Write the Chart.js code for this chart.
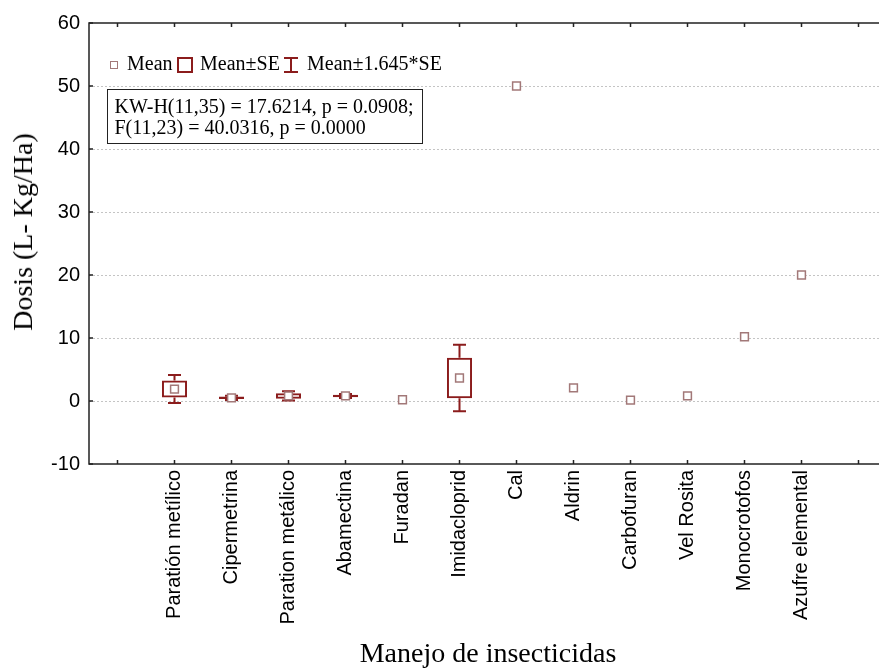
<!DOCTYPE html>
<html lang="es">
<head>
  <meta charset="UTF-8">
  <meta name="viewport" content="width=device-width, initial-scale=1.0">
  <title>Dosis por manejo de insecticidas</title>
  <style>
    html, body {
      margin: 0;
      padding: 0;
      background: #fff;
      overflow: hidden;
    }

    #wrap {
      position: relative;
      width: 879px;
      height: 668px;
      overflow: hidden;
    }

    #doseChart {
      position: absolute;
      left: 0;
      top: 0;
    }

    .serif {
      position: absolute;
      font-family: 'Liberation Serif', 'Times New Roman', serif;
      color: #000;
      white-space: nowrap;
    }

    #yTitle {
      left: 23px;
      top: 232px;
      font-size: 28px;
      transform: translate(-50%, -50%) rotate(-90deg);
    }

    .leg-text {
      font-size: 20px;
      line-height: 20px;
      top: 53px;
    }

    .icon {
      position: absolute;
      box-sizing: border-box;
    }

    #statsBox {
      left: 107px;
      top: 89px;
      width: 316px;
      height: 55px;
      box-sizing: border-box;
      border: 1.5px solid #222;
      padding: 5.5px 0 0 6.5px;
      font-size: 20px;
      line-height: 21px;
      background: #fff;
    }
  </style>
</head>
<body>

<div id="wrap">
  <canvas id="doseChart" width="900" height="668"></canvas>

  <div id="yTitle" class="serif">Dosis (L- Kg/Ha)</div>

  <!-- legend -->
  <div class="icon" style="left:110px; top:61px; width:8px; height:8px; border:1.2px solid #a27878;"></div>
  <div class="serif leg-text" style="left:127px;">Mean</div>
  <div class="icon" style="left:177px; top:57px; width:16px; height:16px; border:2px solid #8b1c1c;"></div>
  <div class="serif leg-text" style="left:200px;">Mean±SE</div>
  <div class="icon" style="left:284px; top:57px; width:14px; height:2px; background:#8b1c1c;"></div>
  <div class="icon" style="left:290px; top:57px; width:2px; height:16px; background:#8b1c1c;"></div>
  <div class="icon" style="left:284px; top:71px; width:14px; height:2px; background:#8b1c1c;"></div>
  <div class="serif leg-text" style="left:307px;">Mean±1.645*SE</div>

  <div id="statsBox" class="serif">KW-H(11,35) = 17.6214, p = 0.0908;<br>F(11,23) = 40.0316, p = 0.0000</div>
</div>

<script src="https://cdn.jsdelivr.net/npm/chart.js"></script>
<script>
  // empty slots at both ends, as in the original axis
  const categories = ['', 'Paratión metílico', 'Cipermetrina', 'Paration metálico', 'Abamectina',
    'Furadan', 'Imidacloprid', 'Cal', 'Aldrin', 'Carbofuran', 'Vel Rosita', 'Monocrotofos',
    'Azufre elemental', ''];
  const means = [null, 1.9, 0.5, 0.8, 0.8, 0.2, 3.65, 50, 2.1, 0.15, 0.8, 10.2, 20, null];
  const stdErr = [null, 1.35, 0.2, 0.45, 0.2, null, 3.2, null, null, null, null, null, null, null];
  const seFactor = 1.645;
  const yTicks = [-10, 0, 10, 20, 30, 40, 50, 60];

  const boxColor = '#8b1c1c';
  const meanColor = '#a27878';

  const seBoxes = means.map((m, i) => (stdErr[i] == null ? null : [m - stdErr[i], m + stdErr[i]]));

  // whiskers for mean +/- 1.645*SE
  const whiskerPlugin = {
    id: 'whiskers',
    beforeDatasetsDraw(chart) {
      const { ctx, scales: { x, y } } = chart;
      const capHalf = 6.5;
      ctx.save();
      ctx.strokeStyle = boxColor;
      ctx.lineWidth = 2;
      means.forEach((m, i) => {
        if (stdErr[i] == null) return;
        const px = x.getPixelForValue(i);
        const ends = [
          [m + stdErr[i], m + seFactor * stdErr[i]],
          [m - stdErr[i], m - seFactor * stdErr[i]]
        ];
        ends.forEach(([from, to]) => {
          const y0 = y.getPixelForValue(from);
          const y1 = y.getPixelForValue(to);
          ctx.beginPath();
          ctx.moveTo(px, y0);
          ctx.lineTo(px, y1);
          ctx.moveTo(px - capHalf, y1);
          ctx.lineTo(px + capHalf, y1);
          ctx.stroke();
        });
      });
      ctx.restore();
    }
  };

  // frame with inward tick marks
  const framePlugin = {
    id: 'frame',
    afterDraw(chart) {
      const { ctx, chartArea: a, scales: { x, y } } = chart;
      const tl = 4;
      ctx.save();
      ctx.strokeStyle = '#222';
      ctx.lineWidth = 1.5;
      ctx.strokeRect(a.left, a.top, a.right - a.left, a.bottom - a.top);
      ctx.beginPath();
      x.ticks.forEach((t, i) => {
        const px = x.getPixelForTick(i);
        ctx.moveTo(px, a.bottom);
        ctx.lineTo(px, a.bottom - tl);
        ctx.moveTo(px, a.top);
        ctx.lineTo(px, a.top + tl);
      });
      yTicks.forEach(v => {
        const py = y.getPixelForValue(v);
        ctx.moveTo(a.left, py);
        ctx.lineTo(a.left + tl, py);
        ctx.moveTo(a.right, py);
        ctx.lineTo(a.right - tl, py);
      });
      ctx.stroke();
      ctx.restore();
    }
  };

  const ctx = document.getElementById('doseChart').getContext('2d');

  const doseChart = new Chart(ctx, {
    type: 'bar',
    data: {
      labels: categories,
      datasets: [
        {
          type: 'line',
          label: 'Mean',
          data: means,
          showLine: false,
          pointStyle: 'rect',
          pointRadius: 5.5,
          pointHoverRadius: 5.5,
          pointBorderWidth: 1.5,
          pointBorderColor: meanColor,
          pointBackgroundColor: '#fff',
          order: 0
        },
        {
          label: 'Mean±SE',
          data: seBoxes,
          backgroundColor: 'rgba(0,0,0,0)',
          borderColor: boxColor,
          borderWidth: 2,
          borderSkipped: false,
          barPercentage: 0.44,
          categoryPercentage: 1,
          order: 1
        }
      ]
    },
    options: {
      responsive: false,
      animation: false,
      layout: {
        padding: { top: 23, right: 13, left: 0, bottom: 0 }
      },
      plugins: {
        legend: { display: false },
        tooltip: { enabled: false }
      },
      scales: {
        x: {
          type: 'category',
          offset: true,
          grid: { display: false, drawTicks: false },
          border: { display: false },
          ticks: {
            autoSkip: false,
            minRotation: 90,
            maxRotation: 90,
            padding: 6,
            color: '#000',
            font: { family: "'Liberation Sans', Arial, sans-serif", size: 20 }
          },
          title: {
            display: true,
            text: 'Manejo de insecticidas',
            color: '#000',
            padding: { top: 0, bottom: -3 },
            font: { family: "'Liberation Serif', 'Times New Roman', serif", size: 28 }
          },
          afterFit(s) { s.height = 204; }
        },
        y: {
          min: -10,
          max: 60,
          afterBuildTicks(s) { s.ticks = yTicks.map(v => ({ value: v })); },
          grid: {
            drawTicks: false,
            lineWidth: 1,
            color: c => (c.tick && (c.tick.value === -10 || c.tick.value === 60) ? 'rgba(0,0,0,0)' : '#c4c4c4')
          },
          border: { display: false, dash: [2, 2] },
          ticks: {
            padding: 9,
            color: '#000',
            font: { family: "'Liberation Sans', Arial, sans-serif", size: 20 }
          },
          afterFit(s) { s.width = 89; }
        }
      }
    },
    plugins: [whiskerPlugin, framePlugin]
  });
</script>

</body>
</html>
